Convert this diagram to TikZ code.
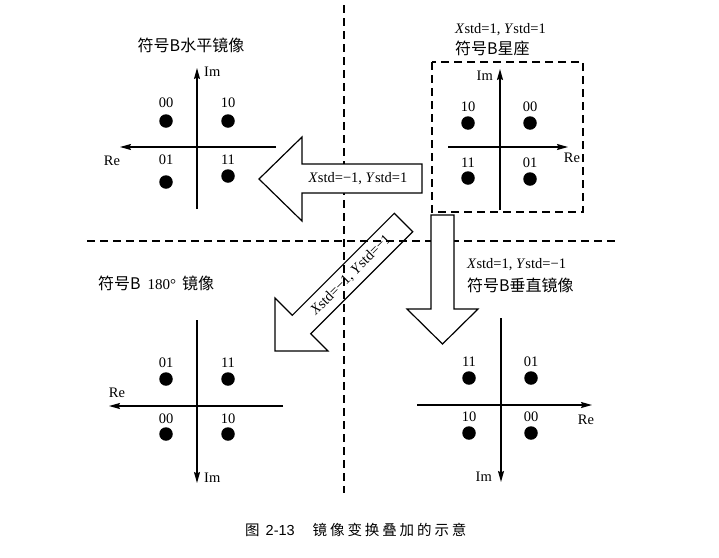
\documentclass[tikz,border=0pt]{standalone}
\usepackage{fontspec}
\setmainfont{Liberation Serif}
\newfontfamily\cjk{Noto Sans CJK SC}
\newfontfamily\cjkcap[LetterSpace=20]{Noto Sans CJK SC}
\newfontfamily\capsans{Liberation Sans}
\usetikzlibrary{arrows.meta}
\begin{document}
\begin{tikzpicture}[x=1pt,y=-1pt,
  lbl/.style={inner sep=0pt,font=\fontsize{14.5}{16}\selectfont},
  ttl/.style={inner sep=0pt,font=\fontsize{16}{18}\selectfont},
  axis/.style={line width=1.2pt,-{Stealth[length=11pt,width=6pt,inset=1.5pt]}},
  pt/.style={circle,fill=black,inner sep=0pt,minimum size=13.5pt},
  dline/.style={line width=1.3pt,dash pattern=on 8pt off 5pt},
  blk/.style={line width=1.2pt,fill=white,line join=miter}]
\useasboundingbox (0,0) rectangle (719,557);
% diagonal block arrow (drawn under dashed lines)
\coordinate (d1) at (394.3,213.3);
\coordinate (d2) at (292.3,315.3);
\coordinate (d3) at (275,298);
\coordinate (d4) at (275,351);
\coordinate (d5) at (328,351);
\coordinate (d6) at (310.7,333.7);
\coordinate (d7) at (412.7,231.7);
\draw[blk] (d1)--(d2)--(d3)--(d4)--(d5)--(d6)--(d7)--cycle;
\node[lbl,rotate=45] (tdiag) at (351,275) {\textit{X}std=−1, \textit{Y}std=−1};
% dashed separators
\coordinate (vt) at (344,5);
\coordinate (vb) at (344,493);
\coordinate (hl) at (87,241);
\coordinate (hr) at (618,241);
\draw[dline] (vt)--(vb);
\draw[dline] (hl)--(hr);
% left block arrow
\coordinate (l1) at (422,164);
\coordinate (l2) at (302,164);
\coordinate (l3) at (302,137);
\coordinate (l4) at (259,179);
\coordinate (l5) at (302,221);
\coordinate (l6) at (302,193);
\coordinate (l7) at (422,193);
\draw[blk] (l1)--(l2)--(l3)--(l4)--(l5)--(l6)--(l7)--cycle;
\node[lbl] (tleft) at (358,178.5) {\textit{X}std=−1, \textit{Y}std=1};
% down block arrow
\coordinate (a1) at (431,215);
\coordinate (a2) at (454,215);
\coordinate (a3) at (454,309);
\coordinate (a4) at (478,309);
\coordinate (a5) at (442.5,344);
\coordinate (a6) at (407,309);
\coordinate (a7) at (431,309);
\draw[blk] (a1)--(a2)--(a3)--(a4)--(a5)--(a6)--(a7)--cycle;

% ===== Top-left: horizontal mirror
\node[ttl] (t1) at (191,45) {\cjk 符号B水平镜像};
\coordinate (tlv0) at (197,209); \coordinate (tlv1) at (197,68);
\coordinate (tlh0) at (276,147); \coordinate (tlh1) at (120,147);
\draw[axis] (tlv0)--(tlv1);
\draw[axis] (tlh0)--(tlh1);
\node[lbl,anchor=west] (tlim) at (204,72) {Im};
\node[lbl] (tlre) at (112,161) {Re};
\node[pt] (tla) at (166,121) {}; \node[lbl] (tlal) at (166,103) {00};
\node[pt] (tlb) at (228,121) {}; \node[lbl] (tlbl) at (228,103) {10};
\node[pt] (tlc) at (166,182) {}; \node[lbl] (tlcl) at (166,160) {01};
\node[pt] (tld) at (228,176) {}; \node[lbl] (tldl) at (228,160) {11};

% ===== Top-right: constellation B
\node[lbl,anchor=west] (t2a) at (455,30) {\textit{X}std=1, \textit{Y}std=1};
\node[ttl,anchor=west] (t2b) at (455,48) {\cjk 符号B星座};
\coordinate (bx0) at (432,62); \coordinate (bx1) at (583,212);
\draw[dline,line width=1.1pt] (bx0) rectangle (bx1);
\coordinate (trv0) at (500,210); \coordinate (trv1) at (500,69);
\coordinate (trh0) at (448,147); \coordinate (trh1) at (568,147);
\draw[axis] (trv0)--(trv1);
\draw[axis] (trh0)--(trh1);
\node[lbl,anchor=east] (trim) at (493,76) {Im};
\node[lbl] (trre) at (572,158) {Re};
\node[pt] (tra) at (468,123) {}; \node[lbl] (tral) at (468,107) {10};
\node[pt] (trb) at (530,123) {}; \node[lbl] (trbl) at (530,107) {00};
\node[pt] (trc) at (468,178) {}; \node[lbl] (trcl) at (468,163) {11};
\node[pt] (trd) at (530,179) {}; \node[lbl] (trdl) at (530,163) {01};

% ===== Bottom-left: 180 degree mirror
\node[ttl,anchor=west] (t3) at (98,283) {{\cjk 符号B}\hspace{7pt}{\fontsize{15}{16}\selectfont 180°}\hspace{6pt}{\cjk 镜像}};
\coordinate (blv0) at (197,320); \coordinate (blv1) at (197,483);
\coordinate (blh0) at (283,406); \coordinate (blh1) at (109,406);
\draw[axis] (blv0)--(blv1);
\draw[axis] (blh0)--(blh1);
\node[lbl,anchor=west] (blim) at (204,478) {Im};
\node[lbl] (blre) at (117,393) {Re};
\node[pt] (bla) at (166,379) {}; \node[lbl] (blal) at (166,363) {01};
\node[pt] (blb) at (228,379) {}; \node[lbl] (blbl) at (228,363) {11};
\node[pt] (blc) at (166,434) {}; \node[lbl] (blcl) at (166,419) {00};
\node[pt] (bld) at (228,434) {}; \node[lbl] (bldl) at (228,419) {10};

% ===== Bottom-right: vertical mirror
\node[lbl,anchor=west] (t4a) at (467,265) {\textit{X}std=1, \textit{Y}std=−1};
\node[ttl,anchor=west] (t4b) at (467,285) {\cjk 符号B垂直镜像};
\coordinate (brv0) at (501,318); \coordinate (brv1) at (501,482);
\coordinate (brh0) at (417,405); \coordinate (brh1) at (592,405);
\draw[axis] (brv0)--(brv1);
\draw[axis] (brh0)--(brh1);
\node[lbl,anchor=east] (brim) at (492,477) {Im};
\node[lbl] (brre) at (586,420) {Re};
\node[pt] (bra) at (469,378) {}; \node[lbl] (bral) at (469,362) {11};
\node[pt] (brb) at (531,378) {}; \node[lbl] (brbl) at (531,362) {01};
\node[pt] (brc) at (469,433) {}; \node[lbl] (brcl) at (469,417) {10};
\node[pt] (brd) at (531,433) {}; \node[lbl] (brdl) at (531,417) {00};

% caption
\node[inner sep=0pt,anchor=west,font=\fontsize{14.5}{16}\selectfont] (cap) at (245,530) {{\cjk 图}\hspace{6pt}{\capsans 2-13}\hspace{18pt}{\cjkcap 镜像变换叠加的示意}};
\end{tikzpicture}
\end{document}
